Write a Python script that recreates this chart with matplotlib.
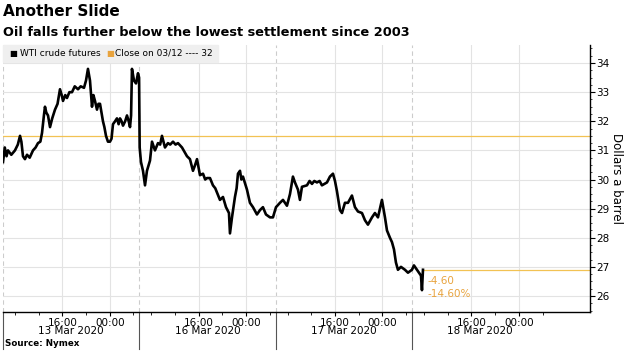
"""WTI crude futures intraday chart, 13-18 Mar 2020 (Bloomberg style)."""

import matplotlib
matplotlib.use("Agg")
import matplotlib.pyplot as plt
from matplotlib.patches import Rectangle
from matplotlib.transforms import blended_transform_factory

# x is trading hours since the 13 Mar session open; each session is 23h
SESSION_LEN = 23
session_dates = ["13 Mar 2020", "16 Mar 2020", "17 Mar 2020", "18 Mar 2020"]
tick_hours = [10, 18]            # offsets within a session
tick_labels = ["16:00", "00:00"]

hours = [
    0.0, 0.3, 0.6, 0.84, 1.4, 2.02, 2.5, 2.87, 3.1, 3.37, 3.7, 4.05, 4.5,
    5.06, 5.5, 5.9, 6.3, 6.58, 6.9, 7.08, 7.3, 7.59, 7.93, 8.3, 8.77, 9.2,
    9.61, 9.9, 10.12, 10.5, 10.79, 11.2, 11.64, 12.1, 12.65, 13.1, 13.66,
    14.0, 14.33, 14.67, 15.01, 15.25, 15.51, 15.85, 16.1, 16.36, 16.86,
    17.1, 17.37, 17.7, 18.04, 18.3, 18.55, 18.9, 19.22, 19.5, 19.73, 20.0,
    20.24, 20.6, 20.91, 21.2, 21.42, 21.6, 21.75, 22.09, 22.43, 22.77,
    22.95, 23.05,
    23.27, 23.61, 23.95, 24.28, 24.79, 25.13, 25.63, 26.14, 26.5, 26.81,
    27.32, 27.82, 28.2, 28.67, 29.1, 29.51, 30.19, 30.6, 31.03, 31.53,
    32.04, 32.4, 32.72, 33.22, 33.73, 34.1, 34.4, 34.91, 35.41, 35.8,
    36.09, 36.59, 37.1, 37.61, 38.11, 38.28, 38.62, 39.12, 39.4, 39.63,
    39.97, 40.2, 40.47, 41.15, 41.65, 42.16, 42.83, 43.34, 43.84, 44.35,
    45.03, 45.53, 46.04,
    46.71, 47.22, 47.89, 48.4, 48.9, 49.24, 49.75, 50.08, 50.42, 51.26,
    51.7, 52.11, 52.5, 52.95, 53.4, 53.79, 54.2, 54.64, 55.14, 55.65,
    55.99, 56.32, 56.83, 57.17, 57.67, 58.18, 58.85, 59.36, 59.87, 60.54,
    61.05, 61.55, 62.23, 62.73, 63.24, 63.58, 63.91, 64.42, 64.76, 65.26,
    65.6, 65.94, 66.27, 66.61, 67.12, 67.79, 68.3, 68.97, 69.31, 69.81,
    70.15, 70.49, 70.66, 70.83,
]
price = [
    30.6, 31.1, 30.8, 31.0, 30.85, 31.0, 31.2, 31.5, 31.3, 30.8, 30.7,
    30.85, 30.75, 31.0, 31.1, 31.25, 31.3, 31.6, 32.2, 32.5, 32.3, 32.2,
    31.8, 32.1, 32.4, 32.6, 33.1, 32.9, 32.7, 32.9, 32.8, 33.0, 33.0, 33.2,
    33.1, 33.2, 33.15, 33.4, 33.8, 33.4, 32.5, 32.9, 32.7, 32.4, 32.6, 32.6,
    32.0, 31.8, 31.5, 31.3, 31.3, 31.4, 31.9, 32.0, 32.1, 31.9, 32.1, 32.0,
    31.85, 32.0, 32.2, 32.0, 31.8, 32.2, 33.8, 33.4, 33.3, 33.65, 33.5,
    31.1,
    30.6, 30.3, 29.8, 30.3, 30.65, 31.3, 31.0, 31.25, 31.2, 31.5, 31.1,
    31.25, 31.2, 31.3, 31.2, 31.25, 31.1, 30.95, 30.8, 30.7, 30.3, 30.5,
    30.7, 30.15, 30.2, 30.0, 30.05, 30.05, 29.8, 29.7, 29.55, 29.3, 29.4,
    29.05, 28.85, 28.15, 28.7, 29.4, 29.7, 30.2, 30.3, 30.0, 30.1, 29.65,
    29.2, 29.05, 28.8, 28.95, 29.05, 28.8, 28.7, 28.7, 29.05,
    29.2, 29.3, 29.1, 29.5, 30.1, 29.9, 29.65, 29.3, 29.75, 29.8, 29.95,
    29.85, 29.95, 29.9, 29.95, 29.8, 29.85, 29.9, 30.1, 30.2, 29.95, 29.6,
    28.95, 28.85, 29.2, 29.2, 29.45, 29.05, 28.9, 28.85, 28.6, 28.45, 28.7,
    28.85, 28.7, 29.0, 29.3, 28.7, 28.25, 28.0, 27.85, 27.6, 27.15, 26.9,
    27.0, 26.9, 26.8, 26.9, 27.05, 26.9, 26.8, 26.7, 26.2, 26.9,
]

prev_close = 31.5
change = "-4.60"
change_pct = "-14.60%"

ORANGE_LINE = "#f2c253"
ORANGE_TEXT = "#e8a33d"
GRID = "#e3e3e3"

fig = plt.figure(figsize=(6.25, 3.64), dpi=100)
ax = fig.add_axes([3 / 625, 52 / 364, 587 / 625, 267 / 364])

ax.set_xlim(0, 99)
ax.set_ylim(25.45, 34.62)

# grid: solid at 16:00 / 00:00, dashed at session opens
for k in range(len(session_dates)):
    start = k * SESSION_LEN
    ax.axvline(start, color="#cccccc", lw=0.8, ls=(0, (4, 3)), zorder=0)
    for th in tick_hours:
        ax.axvline(start + th, color=GRID, lw=0.8, zorder=0)
for lvl in range(26, 35):
    ax.axhline(lvl, color=GRID, lw=0.8, zorder=0)

ax.plot(hours, price, color="black", lw=1.9, zorder=3)

# previous close reference and last value line
ax.axhline(prev_close, color=ORANGE_LINE, lw=0.9, zorder=2)
ax.plot([hours[-1], 99], [price[-1], price[-1]], color=ORANGE_LINE, lw=0.9,
        zorder=2)
ax.annotate(change, (hours[-1], price[-1]), xytext=(3, -8),
            textcoords="offset points", color=ORANGE_TEXT, fontsize=7.5,
            ha="left", va="center")
ax.annotate(change_pct, (hours[-1], price[-1]), xytext=(3, -17.5),
            textcoords="offset points", color=ORANGE_TEXT, fontsize=7.5,
            ha="left", va="center")

# spines
for side in ("top", "left"):
    ax.spines[side].set_visible(False)
ax.spines["bottom"].set_linewidth(1.0)
ax.spines["right"].set_linewidth(1.0)

# y axis on the right
ax.yaxis.tick_right()
ax.yaxis.set_label_position("right")
ax.set_yticks(range(26, 35))
ax.set_yticks([25.5 + 0.25 * i for i in range(37)], minor=True)
ax.tick_params(axis="y", which="major", length=3.5, width=0.8, labelsize=7.5,
               pad=1)
ax.tick_params(axis="y", which="minor", length=1.5, width=0.5)
ax.set_ylabel("Dollars a barrel", rotation=270, fontsize=8.5, labelpad=10)

# x axis: time labels per session, date labels below
major, labels, minor = [], [], []
for k in range(len(session_dates)):
    start = k * SESSION_LEN
    for th, lab in zip(tick_hours, tick_labels):
        major.append(start + th)
        labels.append(lab)
    for m in range(2, SESSION_LEN, 4):
        minor.append(start + m)
ax.set_xticks(major)
ax.set_xticklabels(labels)
ax.set_xticks(minor, minor=True)
ax.tick_params(axis="x", which="major", length=3, width=0.8, labelsize=7.5,
               pad=1)
ax.tick_params(axis="x", which="minor", length=2, width=0.6)

trans = blended_transform_factory(ax.transData, ax.transAxes)
for k, d in enumerate(session_dates):
    start = k * SESSION_LEN
    ax.text(start + SESSION_LEN / 2, -0.072, d, transform=trans,
            ha="center", va="center", fontsize=7.5)
    ax.plot([start, start], [0, -0.14], transform=trans, color="#555555",
            lw=0.8, clip_on=False)

# legend strip
ax.add_patch(Rectangle((0, 1 - 17 / 267), 215 / 587, 17 / 267,
                       transform=ax.transAxes, color="#efefef", zorder=4,
                       clip_on=False))
ly = 1 - 8.5 / 267
ax.text(6 / 587, ly, "\u25a0", transform=ax.transAxes, fontsize=6,
        ha="left", va="center", color="black", zorder=5)
ax.text(17 / 587, ly, "WTI crude futures", transform=ax.transAxes,
        fontsize=6.5, ha="left", va="center", zorder=5)
ax.text(103 / 587, ly, "\u25a0", transform=ax.transAxes, fontsize=6,
        ha="left", va="center", color=ORANGE_TEXT, zorder=5)
ax.text(112 / 587, ly, "Close on 03/12 ---- 32", transform=ax.transAxes,
        fontsize=6.5, ha="left", va="center", zorder=5)

# titles and source
fig.text(3 / 625, 1 - 12 / 364, "Another Slide", fontsize=11,
         fontweight="bold", ha="left", va="center")
fig.text(3 / 625, 1 - 33 / 364,
         "Oil falls further below the lowest settlement since 2003",
         fontsize=9.3, fontweight="bold", ha="left", va="center")
fig.text(5 / 625, 1 - 344 / 364, "Source: Nymex", fontsize=6.3,
         fontweight="bold", ha="left", va="center")

fig.savefig("out.png", dpi=100)
